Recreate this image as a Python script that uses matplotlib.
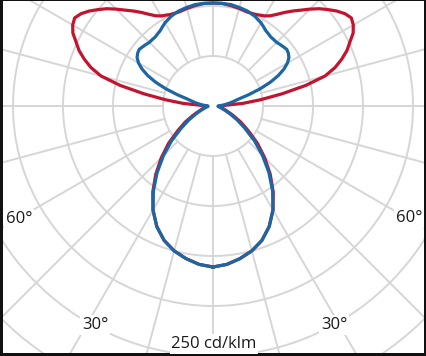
import numpy as np
import matplotlib
matplotlib.use("Agg")
import matplotlib.pyplot as plt

# Photometric data (gamma angle in degrees, intensity in cd/klm)
gamma = [0, 5, 10, 15, 20, 25, 30, 35, 40, 45, 50, 55, 60, 65, 70, 75, 80, 85, 90,
         95, 97.5, 100, 102.5, 105, 107.5, 110, 112.5, 115, 117.5, 120, 122.5, 125,
         127.5, 130, 132.5, 135, 137.5, 140, 142.5, 145, 147.5, 150, 155, 160, 165,
         170, 175, 180]
c0_plane = [161, 159, 155, 150, 143, 133, 120, 105, 89, 73, 58, 43, 32, 22, 15, 11, 8, 6, 6,
            30, 48, 70, 95, 116, 128, 137, 145, 151, 158, 162, 164, 161,
            156, 150, 144, 137, 130, 124, 118, 112, 107, 104, 101, 100, 101,
            102, 103, 103]
c90_plane = [161, 159, 155, 150, 143, 133, 120, 104, 87, 70, 54, 39, 28, 19, 13, 9, 7, 5, 5,
             10, 13, 17, 21, 26, 37, 50, 62, 72, 80, 86, 90, 92,
             93, 92, 91, 90, 90, 90, 91, 92, 94, 96, 99, 101, 102,
             103, 103, 103]
ring_values = [50, 100, 150, 200, 250, 300]
spoke_angles = list(range(0, 360, 15))
angle_labels = ["60°", "60°", "30°", "30°"]
scale_label = "250 cd/klm"

RED = "#c3132f"
BLUE = "#1c66a4"
GRID = "#d6d6d6"

fig = plt.figure(figsize=(4.27, 3.56), dpi=100, facecolor="#111111")
W, H = 427, 356
ax = fig.add_axes([3 / W, 3 / H, (W - 6) / W, (H - 4) / H])
ax.set_facecolor("white")
ax.set_xlim(-210, 211)
ax.set_ylim(-247, 105)
ax.set_aspect("equal")
ax.set_xticks([])
ax.set_yticks([])
for s in ax.spines.values():
    s.set_visible(False)

# grid rings
t = np.linspace(0, 2 * np.pi, 721)
for r in ring_values:
    ax.plot(r * np.cos(t), r * np.sin(t), color=GRID, lw=1.4, zorder=1)
# spokes
for a in spoke_angles:
    th = np.deg2rad(a)
    ax.plot([50 * np.sin(th), 600 * np.sin(th)], [-50 * np.cos(th), -600 * np.cos(th)],
            color=GRID, lw=1.4, zorder=1)


def curve(vals):
    g = np.deg2rad(np.array(gamma, dtype=float))
    v = np.array(vals, dtype=float)
    # right half from 0 up to 180, then left half back down
    xr, yr = v * np.sin(g), -v * np.cos(g)
    xl, yl = -v[::-1] * np.sin(g[::-1]), -v[::-1] * np.cos(g[::-1])
    return np.concatenate([xr, xl]), np.concatenate([yr, yl])


x, y = curve(c0_plane)
ax.plot(x, y, color=RED, lw=2.3, zorder=3, solid_joinstyle="round")
x, y = curve(c90_plane)
ax.plot(x, y, color=BLUE, lw=2.3, zorder=4, solid_joinstyle="round")

font = dict(family=["Open Sans", "DejaVu Sans"], fontsize=12, color="#1a1a1a",
            ha="center", va="center", zorder=5,
            bbox=dict(boxstyle="square,pad=0.1", fc="white", ec="none"))
ax.text(-194, -113, angle_labels[0], **font)
ax.text(196, -112, angle_labels[1], **font)
ax.text(-118, -219, angle_labels[2], **font)
ax.text(121, -219, angle_labels[3], **font)
ax.text(1, -238, scale_label, **font)

fig.savefig("out.png", dpi=100, facecolor=fig.get_facecolor())
